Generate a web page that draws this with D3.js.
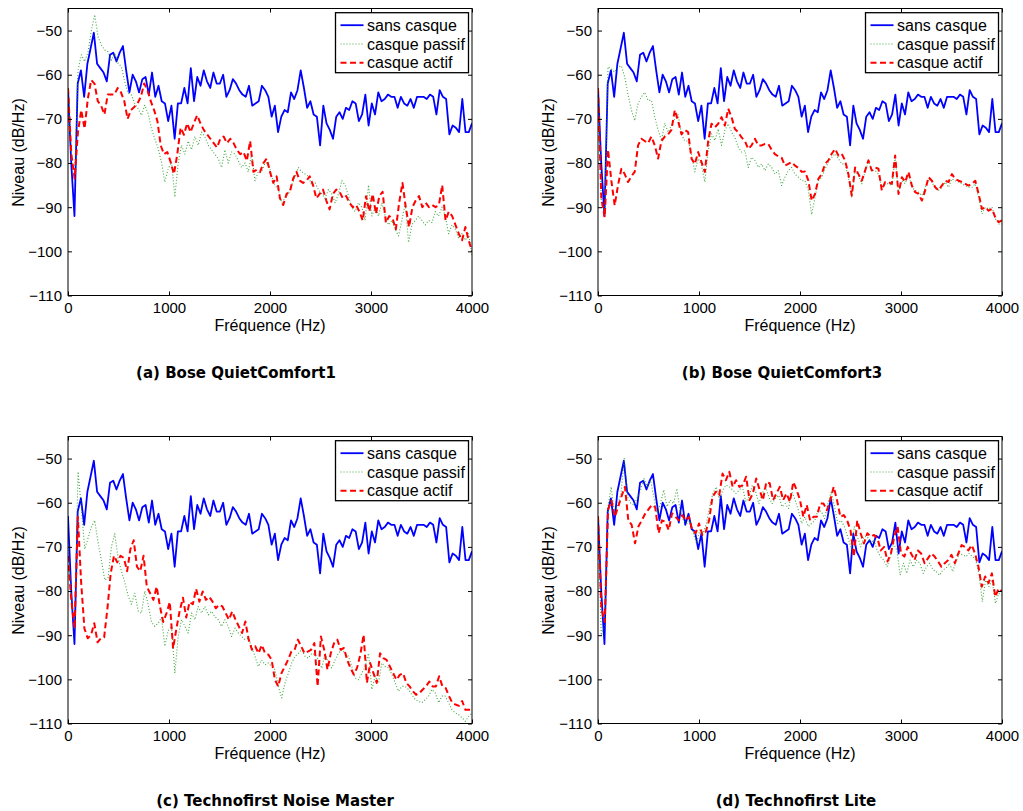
<!DOCTYPE html>
<html><head><meta charset="utf-8">
<script src="https://cdn.jsdelivr.net/npm/d3@7"></script>
<style>body{margin:0;background:#fff}svg{display:block}</style>
</head><body>
<svg id="c" width="1023" height="811"></svg>
<script>
const freqMax = 4000;
const xTicks = [0, 1000, 2000, 3000, 4000];
const yTicks = [-110, -100, -90, -80, -70, -60, -50];
const seriesNames = ["sans casque", "casque passif", "casque actif"];
const titles = ["(a) Bose QuietComfort1", "(b) Bose QuietComfort3", "(c) Technofirst Noise Master", "(d) Technofirst Lite"];

// sans casque (identical reference in all four panels)
const sansCasque = [-63,-80,-92,-62,-59,-65,-57.5,-54,-50.5,-57.5,
-58.5,-59.5,-61.5,-55.5,-55,-57,-55,-53.5,-59,-64,
-60,-61.5,-64,-61,-60.5,-64.5,-59.5,-65,-62.5,-66,
-66.5,-70.5,-67,-74.5,-66.5,-66.5,-63,-66.5,-58.5,-66,
-60.5,-62.5,-59,-61.5,-63,-59.5,-62,-62,-60,-65,
-63.5,-61,-62,-63.5,-64.5,-65,-62.5,-67,-66.5,-66,
-62.5,-63.5,-65,-69.5,-67,-73,-69.5,-68,-68.5,-64,
-65.5,-63.5,-59,-63,-67.5,-66,-69,-69.5,-76,-67,
-71,-72.5,-74.5,-69.5,-68.5,-70,-67.5,-68,-66,-66.5,
-70.5,-69,-64.5,-71.5,-66.5,-69,-64,-66,-65.5,-64.5,
-65,-65,-67.5,-65,-66.5,-67,-65.5,-67.5,-65,-65,
-65,-65.5,-64.5,-65,-69,-63.5,-65,-65.5,-73.5,-71.5,
-72,-73,-65.5,-73,-73,-71];

// (a) Bose QuietComfort1
const passifA = [-63,-78,-83,-59,-55.5,-57,-54.8,-50,-46.4,-51.4,-53.3,-54.4,-54.8,-56.7,-55.2,-57.4,-58.2,-61.6,-64.2,-64.6,-66.5,-67.7,-69.2,-66.9,-68.8,-72.2,-74.5,-76.7,-79.8,-84.3,-81.3,-79.8,-87.7,
-80,-76,-78,-75,-77,-74,-76,-73,-74,-76,-77,-78,-79,-81,-77,-80,-77.5,-78,-79.5,-81,-80,-82,-78,-84,-82,-82,-80,-80,-83,-85,-86,-89,-88,-87,-85,-83,-81,-82,-82.5,-83,-85,-84.5,-86,-87,-88,-86,-87,-89,-87,-84,-85,-87.5,-90,-91,-89,-90,-93,-85,-92,-90,-92,-89,-92,-94,-93,-95,-96.5,-93,-89,-98,-94,-93,-92,-93,-94,-93,-93.5,-91,-92,-90,-92,-96,-94,-95,-97,-96,-97.5,-96,-101];
const actifA = [-63,-78,-83.5,-73,-68,-72.2,-65.4,-61.2,-62,-66,-67,-69,-64.5,-64.5,-64.5,-63,-64,-66,-70,-68,-67.3,-66.5,-65,-62,-63.5,-66,-68,-70.5,
-76,-78,-77.5,-79.8,-82.5,-78,-72,-73.6,-71,-73,-71,-69.2,-71,-72.5,-73.5,-74.5,-75.5,-76.5,-74.5,-74,-75.5,-74.5,-75.5,-77,-78,-77.5,-79.5,-75,-82,-81.5,-82,-80,-79,-82,-84.5,-83,-88,-89.5,-87,-86.5,-83.5,-82,-84,-84.5,-84,-83,-85,-88,-87,-86,-88.5,-90.5,-87,-86,-86.5,-88,-87.5,-89,-90,-89.5,-91,-93,-87.5,-91,-87,-91.5,-87.5,-86.5,-93.5,-92,-92.5,-95,-89,-84.5,-90,-94.5,-90,-88.5,-87.5,-90,-89,-90,-89.5,-90,-89.5,-85,-93,-91,-92,-94,-96,-97.5,-94.5,-97.5,-100];

// (b) Bose QuietComfort3
const passifB = [-63,-89,-91,-58.2,-58.7,-59.4,-58.3,-58,-60.5,-64.5,-68,-70.4,-66.5,-65,-64,-65.8,-65.8,-69.5,-72.5,-74.9,-71,-73,-71.5,-70,-69,-73.5,-75,-75,-78,-82,-79,-80.5,-84.3,
-77.2,-73.4,-74.9,-72.3,-76,-72.6,-71.1,-73,-74.2,-76.4,-77.5,-77.2,-81,-78.7,-79.4,-81,-80.2,-81.7,-80.2,-81,-82.5,-81.7,-85.1,-83.2,-81.7,-81,-82.5,-83.2,-84,-84,-86.2,-91.7,-87.7,-84,-83.2,-81.3,-79.8,-78.7,-77.9,-79,-80.2,-80.2,-83.2,-87.7,-81.7,-82.8,-84.7,-82,-79.4,-81.7,-81.7,-82.5,-85.8,-84.7,-84.7,-85.1,-78.7,-86.6,-84,-84.7,-82.5,-85.5,-86.2,-86.6,-87.4,-85.5,-83.6,-84.3,-85.8,-86.2,-85.5,-84.3,-85.5,-83.6,-84,-84.3,-84.7,-85.1,-85.5,-85.5,-84.7,-87.7,-91.5,-90,-90.4,-90,-92.6,-93.8,-93.8];
const actifB = [-63,-88,-92.3,-77,-84,-89.6,-85,-81.3,-82.5,-84.3,-83,-82,-76,-74.5,-75,-75.5,-74,-76,-79,-75,-74,-73.5,-72.5,-68,-70.5,-73.5,-72.5,-73,-79,-80.2,-77.5,-79.8,-82,
-75,-71.1,-71.9,-71.1,-69.6,-71.5,-67.7,-69.6,-72.3,-73,-74.2,-75,-76.8,-76,-74.5,-76,-76,-75.7,-75.7,-77,-78,-78.5,-78.8,-80.6,-80.2,-79.8,-80.6,-81.1,-82,-81.9,-84,-88.5,-87,-83.6,-82.5,-80.2,-79.4,-77.9,-76.8,-78.3,-77.9,-79.4,-82.5,-87.4,-81,-82.5,-84,-81.7,-79.4,-81.7,-81,-81.3,-86.2,-84.3,-84.3,-84.7,-78.3,-87,-83.2,-84.3,-82,-85.1,-86.6,-87,-88.5,-86.2,-83.2,-84,-85.5,-86.2,-85.1,-84,-84.3,-82.5,-83.6,-84,-84.3,-84.7,-85.1,-84.7,-84,-87,-90.4,-90,-90.8,-90.4,-92.3,-93.4,-93];

// (c) Technofirst Noise Master
const passifC = [-70,-82,-88.5,-53,-61,-70.5,-68,-65.5,-64,-69,-73,-77.5,-77,-70,-67,-72.5,-75.5,-78,-81,-83,-80.5,-84.5,-85,-80,-83,-87,-88,-87.3,-86,-92.5,-89,-88,-98.6,-90.3,
-86.5,-88,-89.5,-85,-86.5,-83.5,-85,-83.5,-85.4,-84.6,-85.8,-86.5,-88,-86.5,-88,-90.3,-88.4,-89.5,-90.3,-91,-90.7,-92.5,-94.8,-97.1,-95.6,-96.7,-96.3,-97.1,-97.8,-101.6,-104.2,-100.8,-98.6,-96.3,-94.8,-94.1,-93.3,-94.8,-95.2,-94.1,-94.4,-95.6,-97.5,-94.1,-96.3,-97.4,-95.6,-94.1,-93.3,-94.1,-94.8,-97.1,-99.7,-100.1,-98.6,-97.1,-94.1,-102.3,-99.3,-100.8,-96.3,-97.1,-97.4,-98.9,-100.8,-102.7,-101.6,-101.6,-102.3,-103.5,-104.6,-105,-105.3,-104.6,-103.8,-102.3,-103.1,-105.3,-103.8,-103.8,-105.3,-106.9,-107.6,-108,-108.7,-109.5,-108.4,-107.6];
const actifC = [-72,-82,-88.5,-63.2,-78,-88.5,-90.7,-90,-87.3,-91.6,-90.7,-90.5,-84,-76,-72,-73.5,-72,-72.5,-75.5,-70.5,-68.5,-74.5,-75.5,-72,-79,-80.5,-82,-79,-83.5,-87,-85,-82.5,-93,-88.5,-84.5,-81.5,-86,-82.5,-83,-79.5,
-82.4,-80.1,-82,-81.3,-82.4,-83.9,-83.1,-83.5,-85,-86.5,-84.6,-86.5,-88,-89.5,-86.9,-91,-93.3,-92.5,-94.1,-92.2,-94.1,-94.4,-95.6,-100.1,-101.6,-98.6,-97.1,-95.6,-93.7,-93.3,-91,-92.5,-94.1,-93.7,-93.3,-91.8,-101.6,-90.3,-93.3,-97.8,-94.1,-91.8,-91,-93.3,-92.9,-95.6,-97.4,-98.9,-97.4,-94.4,-89.9,-100.8,-96.3,-98.6,-100.8,-94.1,-95.2,-95.6,-97.1,-98.6,-100.1,-99,-98.6,-100.8,-101.6,-102.7,-103.5,-103.1,-102.3,-101.6,-100.5,-101.6,-101.6,-99.3,-101.6,-102,-103.8,-105.3,-105.7,-106,-104.9,-106.9,-106.9,-106.9];

// (d) Technofirst Lite
const passifD = [-63,-90,-88,-61.3,-56.4,-62.4,-60.5,-57.9,-50,-58.7,-60.2,-60.5,-58.7,-57.1,-54.5,-56.4,-54.9,-58.7,-62.4,-60.2,-57.1,-60.9,-59.4,-60.2,-56.8,-61.7,-64,-64.7,-64,-66.9,-69.2,-66.2,-66.9,-64.7,-60.9,-57.9,-56.4,-59.4,-57.1,-56,-56.4,-57.1,-57.9,-57.1,-56.4,-59.8,-58.7,-56,-57.5,-60.2,-57.9,-56.4,-58.7,-60.2,-59,-58.3,-60.9,-60.2,-61.3,-57.5,-59.4,-61.7,-64.7,-63.2,-65.4,-64.7,-64,-61.7,-62,-63.6,-60.2,-57.5,-60.9,-64.7,-64,-65.4,-67.7,-70,-65.4,-67.7,-70,-67.7,-67.7,-69.2,-68.4,-70.8,-72.2,-73,-74.5,-72.2,-69.2,-70.8,-76.4,-73.7,-76,-73,-74.5,-73,-73.7,-76,-74.5,-73.7,-75.2,-75.6,-76.4,-75.2,-74.8,-73.7,-75.6,-73.3,-71.5,-71.8,-72.2,-71.5,-72.2,-73,-76,-82.4,-77.5,-79,-77.5,-82.8,-80.5,-80.9];
const actifD = [-63,-84,-87,-61.5,-59.5,-63.2,-60.9,-58.5,-56.4,-64,-65,-69.2,-65.4,-64,-62.5,-61.5,-60.5,-61,-66.9,-64,-64.3,-66.2,-62.4,-63.2,-64,-62.8,-64,-63.2,-66.2,-66.9,-64.7,-67.3,-66.6,-64,-58.7,-57.5,-58.3,-53.4,-54.9,-53,
-56.4,-54.9,-56.4,-56,-54.1,-59.4,-57.9,-54.5,-57.1,-59.4,-55.3,-55.6,-59.4,-57.9,-56.4,-59.4,-57.9,-59.8,-55.3,-57.1,-59.4,-63.2,-60.5,-64,-63.2,-63.2,-60.2,-60.2,-61.7,-59.4,-56.4,-59.4,-63.2,-62.8,-64,-66.2,-72.2,-64,-66.9,-69.2,-66.9,-67.7,-67.3,-68.1,-70.8,-70,-73.3,-71.5,-67.7,-65.4,-71.5,-72.2,-70,-71.5,-73,-70.8,-71.5,-73.7,-72.6,-71.5,-72.2,-73.3,-74.5,-73.7,-73,-71.8,-73.7,-71.5,-69.6,-70,-70.8,-69.6,-71.5,-74.5,-79,-76.7,-78.2,-76,-81.3,-79.4,-80.1];

const passifs = [passifA, passifB, passifC, passifD];
const actifs = [actifA, actifB, actifC, actifD];

// layout
const W = 404, H = 287;
const layout = [
  {x: 68, y: 8.5, tx: 236, ty: 378, lx: 270, ly: 331, yl: 18},
  {x: 598, y: 8.5, tx: 782, ty: 378, lx: 800, ly: 331, yl: 548},
  {x: 68, y: 436.5, tx: 275, ty: 806, lx: 270, ly: 759, yl: 18},
  {x: 598, y: 436.5, tx: 796, ty: 806, lx: 800, ly: 759, yl: 548}
];
const styles = [
  {color: "#0000ff", width: 1.8, dash: null, opacity: 1},
  {color: "#139113", width: 1.1, dash: "1,2", opacity: 0.8},
  {color: "#ff0000", width: 2, dash: "6,3.5", opacity: 1}
];
const sans = "'Liberation Sans', Arial, Helvetica, sans-serif";

const svg = d3.select("#c");
layout.forEach((L, pi) => {
  const g = svg.append("g").attr("transform", `translate(${L.x},${L.y})`);
  const x = d3.scaleLinear().domain([0, freqMax]).range([0, W]);
  const y = d3.scaleLinear().domain([-110, -45]).range([H, 0]);
  const clipId = "clip" + pi;
  g.append("clipPath").attr("id", clipId).append("rect").attr("width", W).attr("height", H);

  const data = [sansCasque, passifs[pi], actifs[pi]];
  const plot = g.append("g").attr("clip-path", `url(#${clipId})`);
  data.forEach((arr, si) => {
    const n = arr.length;
    const line = d3.line().x((d, i) => x(i * freqMax / (n - 1))).y(d => y(d));
    const st = styles[si];
    plot.append("path").datum(arr).attr("d", line)
      .attr("fill", "none").attr("stroke", st.color).attr("stroke-width", st.width)
      .attr("stroke-opacity", st.opacity)
      .attr("stroke-linejoin", "round")
      .attr("stroke-dasharray", st.dash);
  });

  // axes with inward ticks
  const fmt = d => d < 0 ? "\u2212" + Math.abs(d) : String(d);
  const ax = [
    g.append("g").attr("transform", `translate(0,${H})`).call(d3.axisBottom(x).tickValues(xTicks).tickSize(-4).tickPadding(7).tickFormat(fmt)),
    g.append("g").call(d3.axisTop(x).tickValues(xTicks).tickSize(-4).tickFormat("")),
    g.append("g").call(d3.axisLeft(y).tickValues(yTicks).tickSize(-4).tickPadding(6).tickFormat(fmt)),
    g.append("g").attr("transform", `translate(${W},0)`).call(d3.axisRight(y).tickValues(yTicks).tickSize(-4).tickFormat(""))
  ];
  ax.forEach(a => {
    a.select(".domain").remove();
    a.selectAll("line").attr("stroke", "#000");
    a.selectAll("text").attr("font-family", sans).attr("font-size", 15).attr("fill", "#000");
  });
  g.append("rect").attr("width", W).attr("height", H).attr("fill", "none").attr("stroke", "#000").attr("stroke-width", 1);

  // legend
  const lg = g.append("g").attr("transform", `translate(267.5,4.2)`);
  lg.append("rect").attr("width", 133).attr("height", 60).attr("fill", "#fff").attr("stroke", "#000").attr("stroke-width", 1.3);
  seriesNames.forEach((name, si) => {
    const yy = 12.5 + si * 18.8;
    const st = styles[si];
    lg.append("line").attr("x1", 5).attr("x2", 28).attr("y1", yy).attr("y2", yy)
      .attr("stroke", st.color).attr("stroke-width", st.width).attr("stroke-opacity", st.opacity)
      .attr("stroke-dasharray", st.dash);
    lg.append("text").attr("x", 31.5).attr("y", yy).attr("dy", "0.35em")
      .attr("font-family", sans).attr("font-size", 16).text(name);
  });

  // axis labels
  svg.append("text").attr("x", L.lx).attr("y", L.ly).attr("text-anchor", "middle")
    .attr("font-family", sans).attr("font-size", 16).text("Fréquence (Hz)");
  svg.append("text").attr("transform", `translate(${L.yl},${L.y + 144}) rotate(-90)`)
    .attr("text-anchor", "middle").attr("dy", "0.35em")
    .attr("font-family", sans).attr("font-size", 16).text("Niveau (dB/Hz)");

  // title
  svg.append("text").attr("x", L.tx).attr("y", L.ty).attr("text-anchor", "middle")
    .attr("font-family", "'DejaVu Sans', sans-serif").attr("font-weight", "bold")
    .attr("font-size", 15).text(titles[pi]);
});
</script>
</body></html>
